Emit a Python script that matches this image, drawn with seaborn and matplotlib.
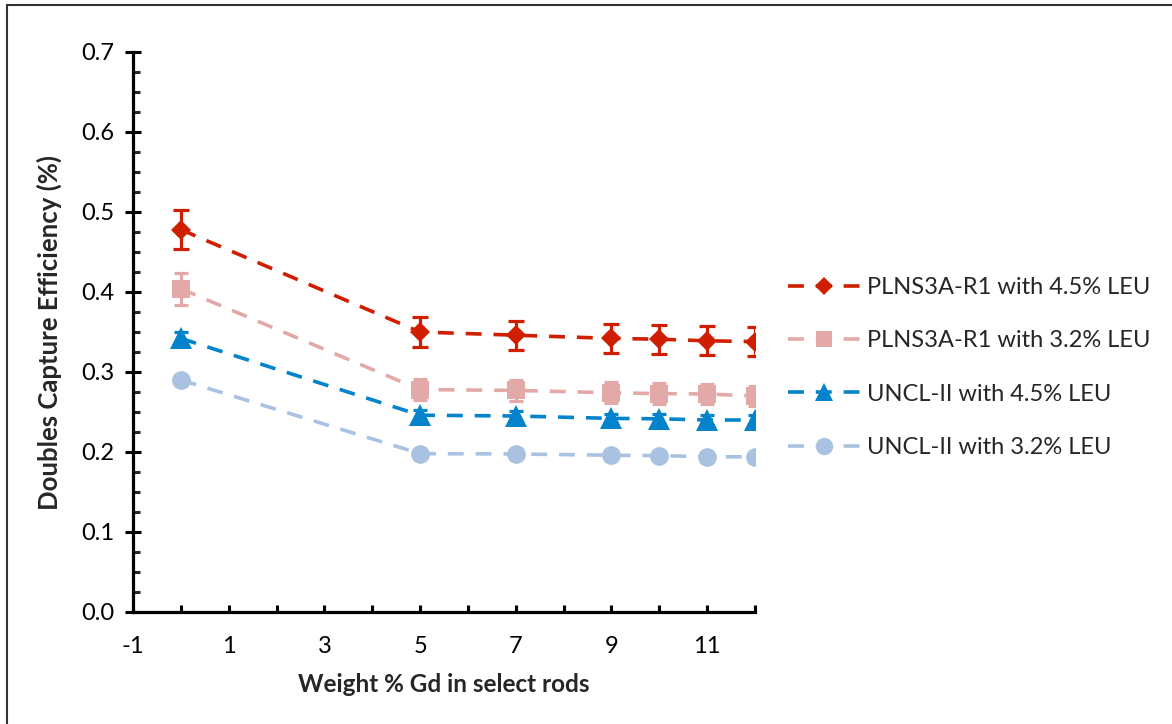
import matplotlib
matplotlib.use("Agg")
import matplotlib.pyplot as plt
import seaborn as sns
import numpy as np
from matplotlib.lines import Line2D
from matplotlib.ticker import MultipleLocator, FixedLocator

# ---- data ----
gd_weight = [0, 5, 7, 9, 10, 11, 12]
plns_45 = [0.478, 0.350, 0.346, 0.342, 0.341, 0.339, 0.338]
plns_45_err = [0.024, 0.019, 0.018, 0.018, 0.018, 0.018, 0.018]
plns_32 = [0.404, 0.278, 0.277, 0.274, 0.273, 0.2725, 0.270]
plns_32_err = [0.020, 0.013, 0.013, 0.013, 0.013, 0.013, 0.013]
uncl_45 = [0.342, 0.246, 0.245, 0.242, 0.2415, 0.240, 0.240]
uncl_45_err = [0.008, 0.006, 0.006, 0.006, 0.006, 0.006, 0.006]
uncl_32 = [0.290, 0.198, 0.1975, 0.196, 0.1955, 0.194, 0.194]
uncl_32_err = [0.006, 0.005, 0.005, 0.005, 0.005, 0.005, 0.005]
series_labels = ["PLNS3A-R1 with 4.5% LEU", "PLNS3A-R1 with 3.2% LEU",
                 "UNCL-II with 4.5% LEU", "UNCL-II with 3.2% LEU"]
y_tick_labels = ["0.0", "0.1", "0.2", "0.3", "0.4", "0.5", "0.6", "0.7"]

sns.set_theme(style="white")
plt.rcParams['font.family'] = ['Lato', 'DejaVu Sans']

fig = plt.figure(figsize=(11.72, 7.24), dpi=100)
ax = fig.add_axes([133/1172, 1-612/724, (755-133)/1172, (612-52)/724])

styles = [
    dict(y=plns_45, e=plns_45_err, color="#D01E00", marker="D", ms=10, lms=9, cs=5.8),
    dict(y=plns_32, e=plns_32_err, color="#E3A9A8", marker="s", ms=13.5, lms=12, cs=5.0),
    dict(y=uncl_45, e=uncl_45_err, color="#0283CB", marker="^", ms=16, lms=13, cs=5.0),
    dict(y=uncl_32, e=uncl_32_err, color="#A9C2E1", marker="o", ms=13.5, lms=12.5, cs=5.0),
]
dash = (0, (4.4, 3.3))
for st, lab in zip(styles, series_labels):
    ax.errorbar(gd_weight, st["y"], yerr=st["e"], fmt="none", ecolor=st["color"],
                elinewidth=2.3, capsize=st["cs"], capthick=2.3, zorder=3)
    sns.lineplot(x=gd_weight, y=st["y"], ax=ax, color=st["color"], marker=st["marker"],
                 markersize=st["ms"], markeredgewidth=0, linestyle=dash, linewidth=2.6,
                 label=lab, errorbar=None, zorder=2)

ax.set_xlim(-1, 12)
ax.set_ylim(0, 0.7)
ax.xaxis.set_major_locator(FixedLocator(list(range(-1, 13))))
ax.set_xticklabels([str(v) if v % 2 != 0 else "" for v in range(-1, 13)])
ax.yaxis.set_major_locator(FixedLocator([i/10 for i in range(8)]))
ax.set_yticklabels(y_tick_labels)
ax.yaxis.set_minor_locator(MultipleLocator(0.025))

for s in ["top", "right"]:
    ax.spines[s].set_visible(False)
for s in ["left", "bottom"]:
    ax.spines[s].set_linewidth(2.3)
    ax.spines[s].set_color("black")

ax.tick_params(axis="y", which="major", direction="inout", length=11, width=2.2,
               labelsize=17, pad=8, colors="black", left=True)
ax.tick_params(axis="y", which="minor", direction="in", length=5, width=2.2, left=True)
ax.tick_params(axis="x", which="major", direction="in", length=5, width=2.2,
               labelsize=17, pad=17, colors="black", bottom=True)
for t in ax.get_xticklabels() + ax.get_yticklabels():
    t.set_color("black")

ax.set_xlabel("Weight % Gd in select rods", fontsize=17.5, fontweight="bold", labelpad=12)
ax.set_ylabel("Doubles Capture Efficiency (%)", fontsize=18.5, fontweight="bold", labelpad=14)

handles, labels = ax.get_legend_handles_labels()
leg = ax.legend(handles, labels, loc="center left", bbox_to_anchor=(788/1172, 1-367.5/724),
                bbox_transform=fig.transFigure, frameon=False, fontsize=17,
                handlelength=3.05, handletextpad=0.3, labelspacing=1.37,
                borderpad=0, borderaxespad=0)
for h, st in zip(leg.legend_handles, styles):
    h.set_markersize(st["lms"])

# figure border (left and top)
fig.add_artist(Line2D([7/1172, 7/1172], [0, 1-5/724], transform=fig.transFigure,
                      color="#333333", lw=1.5))
fig.add_artist(Line2D([7/1172, 1], [1-5/724, 1-5/724], transform=fig.transFigure,
                      color="#333333", lw=1.5))

fig.savefig("out.png", dpi=100)
